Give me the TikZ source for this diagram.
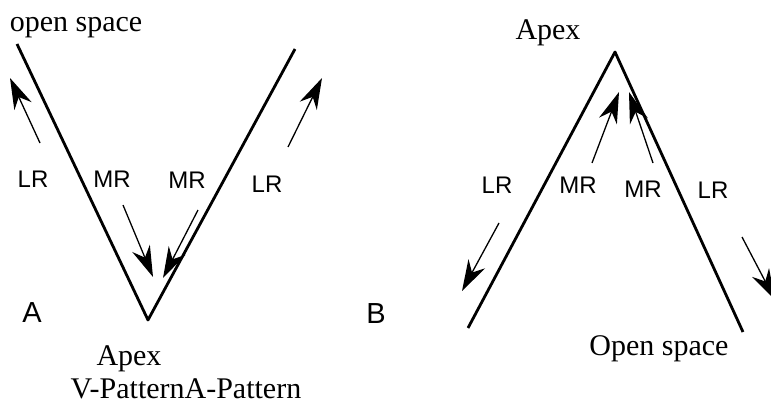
\documentclass[tikz,border=0pt]{standalone}
\usepackage{fontspec}
\setmainfont{Liberation Serif}
\newfontfamily\lblfont{Liberation Sans}
\usetikzlibrary{arrows.meta}
\begin{document}
\begin{tikzpicture}[x=1pt,y=-1pt,
  arm/.style={line width=2.8pt,line join=round},
  flow/.style={line width=1.3pt,-{Stealth[length=31pt,width=19pt,inset=10pt]}},
  serif/.style={font=\fontsize{30}{30}\selectfont,anchor=base,inner sep=0pt},
  lbl/.style={font=\lblfont\fontsize{24}{24}\selectfont,anchor=base,inner sep=0pt},
  big/.style={font=\lblfont\fontsize{29}{29}\selectfont,anchor=base,inner sep=0pt}]
\useasboundingbox (0,0) rectangle (771,412);
\clip (0,0) rectangle (771,412);
% V pattern
\coordinate (vl) at (17,44);
\coordinate (va) at (148,320);
\coordinate (vr) at (295,49);
\draw[arm] (vl) -- (va) -- (vr);
\coordinate (v1s) at (40,143);  \coordinate (v1e) at (10,78);
\coordinate (v2s) at (123,205); \coordinate (v2e) at (153,277);
\coordinate (v3s) at (198,210); \coordinate (v3e) at (163,278);
\coordinate (v4s) at (288,147); \coordinate (v4e) at (322,78);
\draw[flow] (v1s) -- (v1e);
\draw[flow] (v2s) -- (v2e);
\draw[flow] (v3s) -- (v3e);
\draw[flow] (v4s) -- (v4e);
\node[serif] (os) at (76,32) {open space};
\node[lbl] (vlr1) at (33,187) {LR};
\node[lbl] (vmr1) at (112,187) {MR};
\node[lbl] (vmr2) at (187,188) {MR};
\node[lbl] (vlr2) at (267,192) {LR};
\node[big] (la) at (32,322) {A};
\node[serif] (vapex) at (129,365) {Apex};
\node[serif] (pat) at (186,398) {V-PatternA-Pattern};
% A pattern
\coordinate (al) at (468,328);
\coordinate (aa) at (615,52);
\coordinate (ar) at (743,332);
\draw[arm] (al) -- (aa) -- (ar);
\coordinate (a1s) at (499,223); \coordinate (a1e) at (462,291);
\coordinate (a2s) at (592,163); \coordinate (a2e) at (619,92);
\coordinate (a3s) at (653,163); \coordinate (a3e) at (629,92);
\coordinate (a4s) at (742,237); \coordinate (a4e) at (775,300);
\draw[flow] (a1s) -- (a1e);
\draw[flow] (a2s) -- (a2e);
\draw[flow] (a3s) -- (a3e);
\draw[flow] (a4s) -- (a4e);
\node[big] (lb) at (376,323) {B};
\node[serif] (aapex) at (548,40) {Apex};
\node[lbl] (alr1) at (497,193) {LR};
\node[lbl] (amr1) at (578,193) {MR};
\node[lbl] (amr2) at (643,197) {MR};
\node[lbl] (alr2) at (713,198) {LR};
\node[serif] (osp) at (659,355) {Open space};
\end{tikzpicture}
\end{document}
